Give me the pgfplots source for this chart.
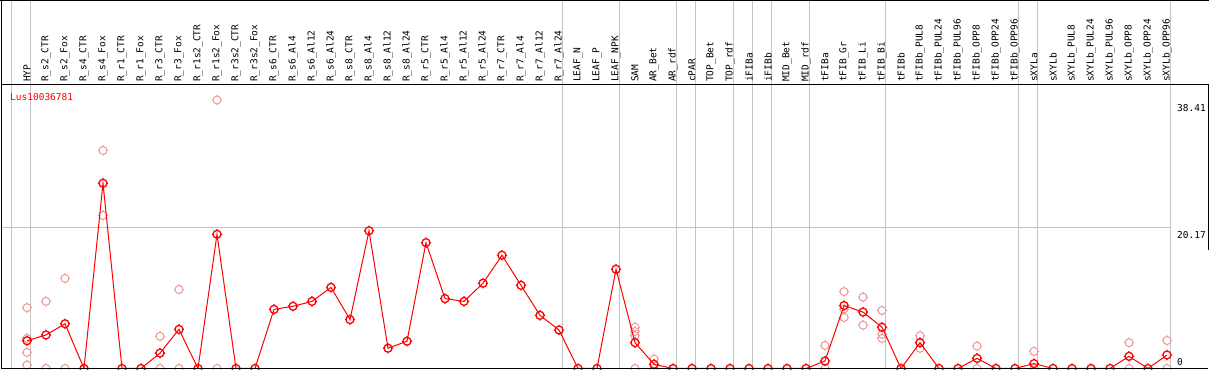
\documentclass[border=0pt]{standalone}
\usepackage{fontspec}
\setmainfont{DejaVu Sans Mono}
\usepackage{pgfplots}
\usepackage{pgfplotstable}
\pgfplotsset{compat=1.18}
\definecolor{rep}{RGB}{236,150,150}
\definecolor{grd}{RGB}{196,196,196}
\pgfdeclareplotmark{ocross}{%
  \pgfpathcircle{\pgfpointorigin}{\pgfplotmarksize}%
  \pgfpathmoveto{\pgfpoint{\pgfplotmarksize}{0pt}}\pgfpathlineto{\pgfpoint{1.3\pgfplotmarksize}{0pt}}%
  \pgfpathmoveto{\pgfpoint{-\pgfplotmarksize}{0pt}}\pgfpathlineto{\pgfpoint{-1.3\pgfplotmarksize}{0pt}}%
  \pgfpathmoveto{\pgfpoint{0pt}{\pgfplotmarksize}}\pgfpathlineto{\pgfpoint{0pt}{1.3\pgfplotmarksize}}%
  \pgfpathmoveto{\pgfpoint{0pt}{-\pgfplotmarksize}}\pgfpathlineto{\pgfpoint{0pt}{-1.3\pgfplotmarksize}}%
  \pgfusepathqstroke}
\pgfplotstableread{
x y
0 3.97
1 4.8
2 6.4
3 0
4 26.5
5 0
6 0
7 2.2
8 5.6
9 0
10 19.2
11 0
12 0
13 8.46
14 8.9
15 9.6
16 11.6
17 7.0
18 19.7
19 2.9
20 3.9
21 18.0
22 10.0
23 9.6
24 12.2
25 16.2
26 11.9
27 7.6
28 5.5
29 0
30 0
31 14.2
32 3.7
33 0.6
34 0
35 0
36 0
37 0
38 0
39 0
40 0
41 0
42 1.07
43 9.0
44 8.07
45 5.9
46 0
47 3.7
48 0
49 0
50 1.45
51 0
52 0
53 0.7
54 0
55 0
56 0
57 0
58 1.74
59 0
60 1.93
}\mainT
\pgfplotstableread{
x y
0 8.7
0 4.3
0 2.3
0 0.5
1 9.6
1 0
2 12.9
2 0
4 31.2
4 21.9
7 4.6
7 0
8 11.3
8 0
10 38.41
10 0
32 5.9
32 5.3
32 4.7
32 0
33 1.36
33 0
42 3.3
42 0
43 11.0
43 8.5
43 7.3
44 10.2
44 6.2
45 8.3
45 4.9
45 4.3
47 4.7
47 2.9
50 3.2
50 0
53 2.45
53 0
58 3.7
58 0
60 4.0
60 0
}\repT
\begin{document}
\begin{tikzpicture}[font=\fontsize{9.5}{11}\selectfont]
\begin{axis}[
  set layers,
  scale only axis,
  width=1207pt, height=283.5pt,
  xmin=-1.368, xmax=62.158,
  ymin=0, ymax=40.56,
  axis line style={draw=none},
  clip mode=individual,
  major tick length=0pt,
  tick style={draw=none},
  xtick={0,...,60},
  xticklabels={HYP,R\_s2\_CTR,R\_s2\_Fox,R\_s4\_CTR,R\_s4\_Fox,R\_r1\_CTR,R\_r1\_Fox,R\_r3\_CTR,R\_r3\_Fox,R\_r1s2\_CTR,R\_r1s2\_Fox,R\_r3s2\_CTR,R\_r3s2\_Fox,R\_s6\_CTR,R\_s6\_Al4,R\_s6\_Al12,R\_s6\_Al24,R\_s8\_CTR,R\_s8\_Al4,R\_s8\_Al12,R\_s8\_Al24,R\_r5\_CTR,R\_r5\_Al4,R\_r5\_Al12,R\_r5\_Al24,R\_r7\_CTR,R\_r7\_Al4,R\_r7\_Al12,R\_r7\_Al24,LEAF\_N,LEAF\_P,LEAF\_NPK,SAM,AR\_Bet,AR\_rdf,cPAR,TOP\_Bet,TOP\_rdf,iFIBa,iFIBb,MID\_Bet,MID\_rdf,tFIBa,tFIB\_Gr,tFIB\_Li,tFIB\_Bi,tFIBb,tFIBb\_PUL8,tFIBb\_PUL24,tFIBb\_PUL96,tFIBb\_OPP8,tFIBb\_OPP24,tFIBb\_OPP96,sXYLa,sXYLb,sXYLb\_PUL8,sXYLb\_PUL24,sXYLb\_PUL96,sXYLb\_OPP8,sXYLb\_OPP24,sXYLb\_OPP96},
  xticklabel pos=upper,
  xticklabel style={rotate=90, anchor=west, inner xsep=3pt, inner ysep=0pt},
  ytick={20.17,38.41},
  yticklabels={20.17,38.41},
  yticklabel pos=right,
  yticklabel style={anchor=north west, inner sep=0pt, xshift=-31pt, yshift=-4pt},
  extra y ticks={0},
  extra y tick labels={0},
  extra y tick style={yticklabel style={anchor=south west, yshift=6.5pt}},
  /pgf/number format/assume math mode=true,
]
\begin{pgfonlayer}{axis grid}
\pgfplotsinvokeforeach{-0.816,0.184,28.184,31.184,34.184,35.184,37.184,38.184,39.184,41.184,45.184,52.184,53.184,60.184}{
  \draw[grd, line width=1pt] (axis cs:#1,0) -- (axis cs:#1,52.72);
}
\draw[grd, line width=1pt] (axis cs:-1.368,20.17) -- (axis cs:60.184,20.17);
\end{pgfonlayer}
\addplot[only marks, mark=ocross, mark size=4pt, color=rep, mark options={line width=1pt}] table {\repT};
\addplot[red, line width=1pt, mark=ocross, mark size=4pt, mark options={line width=1.3pt}] table {\mainT};
\draw[black, line width=1pt] (rel axis cs:0,0) -- (rel axis cs:1,0);
\draw[black, line width=1pt] (axis cs:-1.368,40.56) -- (axis cs:62.21,40.56);
\draw[black, line width=1pt] (axis cs:-1.421,52.65) -- (axis cs:62.21,52.65);
\draw[black, line width=1pt] (axis cs:-1.368,0) -- (axis cs:-1.368,52.72);
\draw[black, line width=1pt] (axis cs:62.158,40.56) -- (axis cs:62.158,16.95);
\node[anchor=north west, inner sep=0pt, text=red] at (axis cs:-0.895,39.41) {Lus10036781};
\coordinate (bbA) at (axis cs:-1.421,-0.2146);
\coordinate (bbB) at (axis cs:62.21,52.72);
\end{axis}
\pgfresetboundingbox
\path[use as bounding box] (bbA) rectangle (bbB);
\end{tikzpicture}
\end{document}
